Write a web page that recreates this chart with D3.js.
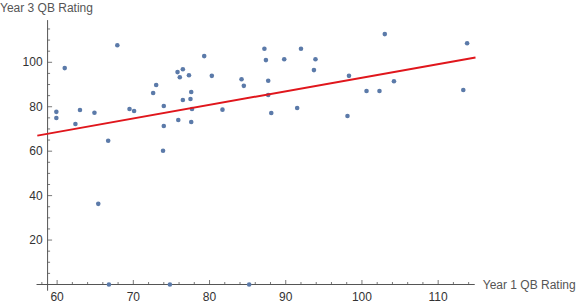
<!DOCTYPE html>
<html>
<head>
<meta charset="utf-8">
<script src="https://cdn.jsdelivr.net/npm/d3@7"></script>
<style>
  html, body { margin: 0; padding: 0; background: #fff; }
  svg { display: block; font-family: "Liberation Sans", Arial, sans-serif; }
</style>
</head>
<body>
<svg id="chart" width="579" height="303"></svg>
<script>
// ---- data ----
const year1 = [59.9, 59.9, 61.0, 62.4, 63.0, 64.9, 65.4, 66.7, 66.8, 67.9,
  69.5, 70.1, 72.6, 73.0, 74.0, 74.0, 73.9, 74.8, 75.8, 76.1,
  76.5, 77.3, 77.6, 76.5, 77.5, 75.9, 77.6, 77.7, 79.3, 80.3,
  81.7, 84.2, 84.5, 85.2, 87.2, 87.4, 87.7, 87.7, 88.1, 89.8,
  91.5, 92.0, 93.9, 93.7, 98.3, 98.1, 100.6, 102.3, 103.0, 104.2,
  113.8, 113.3];
const year3 = [77.7, 74.9, 97.4, 72.2, 78.5, 77.3, 36.3, 64.7, 0, 107.7,
  79.0, 78.1, 86.2, 89.8, 80.3, 71.3, 60.2, 0, 95.6, 93.3,
  96.9, 94.2, 86.6, 83.0, 83.5, 74.0, 73.1, 79.0, 102.8, 93.9,
  78.7, 92.4, 89.4, 0, 106.1, 101.0, 91.7, 85.3, 77.2, 101.4,
  79.4, 106.1, 101.4, 96.5, 93.9, 75.8, 87.1, 87.1, 112.7, 91.5,
  108.6, 87.5];
const fitX = [57.4, 114.9];
const fitY = [67.0, 102.2];
const xTickLabels = [60, 70, 80, 90, 100, 110];
const yTickLabels = [20, 40, 60, 80, 100];
const xMinorTicks = d3.range(58, 115, 2);
const yMinorTicks = d3.range(5, 120, 5);
const xTitle = "Year 1 QB Rating";
const yTitle = "Year 3 QB Rating";

// ---- scales ----
const x = d3.scaleLinear().domain([57.4, 114.9]).range([37.3, 475.5]);
const y = d3.scaleLinear().domain([0, 100]).range([284.5, 62.3]);
const yAxisAt = 58.75;   // x value where the vertical axis sits
const xMin = 57.3, xMax = 114.8;
const yTop = 119, yBottom = -2.8;

const svg = d3.select("#chart");
const axisColor = "#555";
const textColor = "#333";

// x axis
const gx = svg.append("g");
gx.append("line")
  .attr("x1", x(xMin)).attr("x2", x(xMax))
  .attr("y1", y(0)).attr("y2", y(0))
  .attr("stroke", axisColor).attr("stroke-width", 1);
gx.selectAll(".xminor").data(xMinorTicks).join("line")
  .attr("x1", d => x(d)).attr("x2", d => x(d))
  .attr("y1", y(0)).attr("y2", d => y(0) - (d % 10 === 0 ? 4.5 : 2.5))
  .attr("stroke", axisColor).attr("stroke-width", 0.8);
gx.selectAll(".xlab").data(xTickLabels).join("text")
  .attr("x", d => x(d)).attr("y", y(0) + 16)
  .attr("text-anchor", "middle")
  .attr("font-size", 12).attr("fill", textColor)
  .text(d => d);
svg.append("text")
  .attr("x", x(xMax) + 8).attr("y", y(0) + 4)
  .attr("font-size", 12).attr("fill", "#555")
  .text(xTitle);

// y axis
const gy = svg.append("g");
gy.append("line")
  .attr("x1", x(yAxisAt)).attr("x2", x(yAxisAt))
  .attr("y1", y(yTop)).attr("y2", y(yBottom))
  .attr("stroke", axisColor).attr("stroke-width", 1);
gy.selectAll(".yminor").data(yMinorTicks).join("line")
  .attr("x1", x(yAxisAt)).attr("x2", d => x(yAxisAt) + (d % 20 === 0 ? 4.5 : 2.5))
  .attr("y1", d => y(d)).attr("y2", d => y(d))
  .attr("stroke", axisColor).attr("stroke-width", 0.8);
gy.selectAll(".ylab").data(yTickLabels).join("text")
  .attr("x", x(yAxisAt) - 5).attr("y", d => y(d) + 4)
  .attr("text-anchor", "end")
  .attr("font-size", 12).attr("fill", textColor)
  .text(d => d);
svg.append("text")
  .attr("x", 0).attr("y", 12)
  .attr("font-size", 12).attr("fill", "#555")
  .text(yTitle);

// points
const pts = year1.map((v, i) => ({ x: v, y: year3[i] }));
svg.append("g").selectAll("circle").data(pts).join("circle")
  .attr("cx", d => x(d.x)).attr("cy", d => y(d.y))
  .attr("r", 2.3)
  .attr("fill", "#5b7aa9");

// fit line
const line = d3.line().x(d => x(d[0])).y(d => y(d[1]));
svg.append("path")
  .datum(fitX.map((v, i) => [v, fitY[i]]))
  .attr("d", line)
  .attr("fill", "none")
  .attr("stroke", "#e0161c")
  .attr("stroke-width", 2);
</script>
</body>
</html>
